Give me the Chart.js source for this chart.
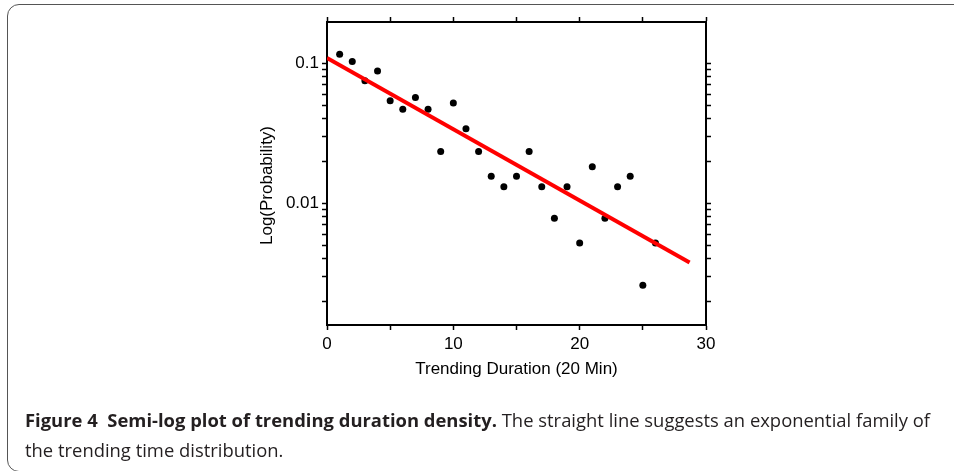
<!DOCTYPE html>
<html>
<head>
<meta charset="utf-8">
<script src="https://cdn.jsdelivr.net/npm/chart.js@4.4.1/dist/chart.umd.min.js"></script>
<style>
  html, body { margin: 0; padding: 0; background: #fff; }
  body { width: 954px; height: 471px; position: relative; overflow: hidden; }
  #plot { position: absolute; left: 0; top: 0; }
  #frame {
    position: absolute; left: 7px; top: 4px; width: 1000px; height: 468px;
    box-sizing: border-box; border: 1.5px solid #555; border-radius: 12px;
  }
  #caption {
    position: absolute; left: 25px; top: 405px;
    font-family: "Open Sans", sans-serif; font-size: 18px; line-height: 30px;
    color: #231f20; white-space: nowrap; transform-origin: 0 0;
  }
  #caption b { font-weight: 700; }
</style>
</head>
<body>
<canvas id="plot" width="954" height="471"></canvas>
<div id="frame"></div>
<div id="caption"><span id="line1"><b>Figure 4&nbsp; Semi-log plot of trending duration density.</b> The straight line suggests an exponential family of</span><br>the trending time distribution.</div>
<script>
// trending duration (units of 20 min) and measured probability
const durations = [1, 2, 3, 4, 5, 6, 7, 8, 9, 10, 11, 12, 13, 14, 15, 16, 17, 18, 19, 20, 21, 22, 23, 24, 25, 26];
const probabilities = [0.116, 0.103, 0.075, 0.088, 0.054, 0.047, 0.057, 0.047, 0.0234, 0.052, 0.034, 0.0234, 0.0156,
  0.0131, 0.0156, 0.0234, 0.0131, 0.0078, 0.0131, 0.0052, 0.0182, 0.0078, 0.0131, 0.0156, 0.0026, 0.0052];

// exponential fit, end points
const fitX = [0, 28.7];
const fitY = [0.109, 0.00377];

// axis ticks
const xTicks = [0, 5, 10, 15, 20, 25, 30];
const xTickLabels = ["0", "", "10", "", "20", "", "30"];
const yTicks = [0.002, 0.003, 0.004, 0.005, 0.006, 0.007, 0.008, 0.009, 0.01,
  0.02, 0.03, 0.04, 0.05, 0.06, 0.07, 0.08, 0.09, 0.1];
const yTickLabels = { 0.01: "0.01", 0.1: "0.1" };
const yTitle = "Log(Probability)";

const FONT = "'Liberation Sans', Arial, sans-serif";
Chart.defaults.font.family = FONT;
Chart.defaults.color = "#000";

const ctx = document.getElementById("plot").getContext("2d");

const axisBase = {
  border: { display: true, color: "#000", width: 2 },
  grid: { display: true, drawOnChartArea: false, drawTicks: true, tickLength: 5, tickColor: "#000", tickWidth: 1.5 },
};

function hiddenLabels(extra) {
  return Object.assign({}, axisBase, { ticks: { display: false, autoSkip: false } }, extra);
}

// y title sits a little below the axis middle in the original, so draw it ourselves
const yTitlePlugin = {
  id: "yTitle",
  afterDraw(chart) {
    const c = chart.ctx;
    const area = chart.chartArea;
    c.save();
    c.translate(chart.scales.y.left + 14, (area.top + area.bottom) / 2 + 12);
    c.rotate(-Math.PI / 2);
    c.font = `17px ${FONT}`;
    c.fillStyle = "#000";
    c.textAlign = "center";
    c.textBaseline = "middle";
    c.fillText(yTitle, 0, 0);
    c.restore();
  },
};

const chart = new Chart(ctx, {
  type: "scatter",
  data: {
    datasets: [
      {
        label: "fit",
        data: fitX.map((x, i) => ({ x: x, y: fitY[i] })),
        showLine: true,
        borderColor: "#ff0000",
        borderWidth: 4,
        pointRadius: 0,
        xAxisID: "x",
        yAxisID: "y",
      },
      {
        label: "data",
        data: durations.map((d, i) => ({ x: d, y: probabilities[i] })),
        backgroundColor: "#000",
        borderColor: "#000",
        pointRadius: 3.5,
        pointBorderWidth: 0,
        xAxisID: "x",
        yAxisID: "y",
      },
    ],
  },
  options: {
    responsive: false,
    animation: false,
    layout: { padding: { left: 253, top: 17, right: 243, bottom: 91 } },
    plugins: { legend: { display: false }, tooltip: { enabled: false } },
    scales: {
      x: Object.assign({}, axisBase, {
        type: "linear",
        position: "bottom",
        min: 0,
        max: 30,
        afterBuildTicks: (scale) => { scale.ticks = xTicks.map((v) => ({ value: v })); },
        ticks: {
          autoSkip: false,
          maxRotation: 0,
          padding: 4,
          font: { size: 17 },
          callback: (value) => xTickLabels[xTicks.indexOf(value)],
        },
        title: { display: true, text: "Trending Duration (20 Min)", font: { size: 17 }, padding: { top: 4, bottom: 0 } },
        afterFit: (scale) => { scale.height = 55; },
      }),
      x2: hiddenLabels({
        type: "linear",
        position: "top",
        min: 0,
        max: 30,
        afterBuildTicks: (scale) => { scale.ticks = xTicks.map((v) => ({ value: v })); },
      }),
      y: Object.assign({}, axisBase, {
        type: "logarithmic",
        position: "left",
        min: 0.00135,
        max: 0.197,
        afterBuildTicks: (scale) => { scale.ticks = yTicks.map((v) => ({ value: v })); },
        ticks: {
          autoSkip: false,
          padding: 3,
          font: { size: 17 },
          callback: (value) => yTickLabels[value] || "",
        },
        title: { display: false },
        afterFit: (scale) => { scale.width = 74; },
      }),
      y2: hiddenLabels({
        type: "logarithmic",
        position: "right",
        min: 0.00135,
        max: 0.197,
        afterBuildTicks: (scale) => { scale.ticks = yTicks.map((v) => ({ value: v })); },
      }),
    },
  },
  plugins: [yTitlePlugin],
});

// squeeze caption so the first line ends where the reference's does
const line1 = document.getElementById("line1");
const caption = document.getElementById("caption");
const w = line1.getBoundingClientRect().width;
caption.style.transform = `scaleX(${905 / w})`;
</script>
</body>
</html>
